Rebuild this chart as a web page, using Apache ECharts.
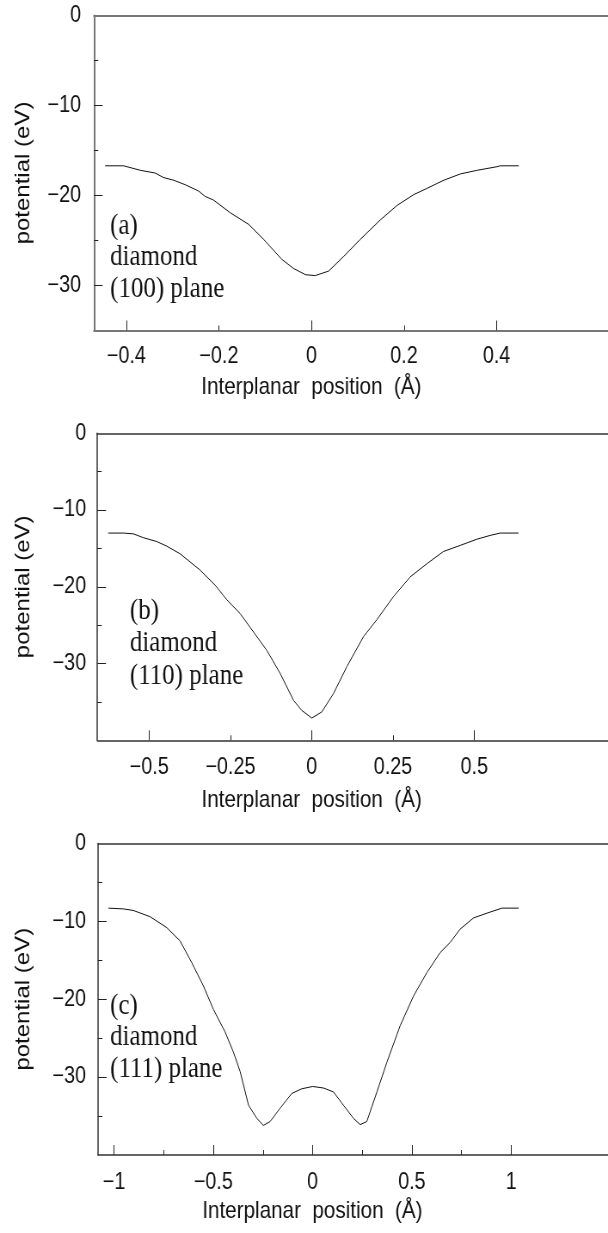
<!DOCTYPE html>
<html><head><meta charset="utf-8">
<script src="https://cdn.jsdelivr.net/npm/echarts@6/dist/echarts.min.js"></script>
<style>
html,body{margin:0;padding:0;background:#fff;overflow:hidden;width:608px;height:1233px;position:relative}
#c{width:1100px;height:1233px;transform:scaleX(0.86);transform-origin:0 0;position:absolute;left:0;top:0}
</style>
</head><body><div id="c"></div>
<script>
// Panel (a) diamond (100) plane
const xA = [-0.446,-0.406,-0.403,-0.370,-0.338,-0.320,-0.298,-0.273,-0.244,-0.230,-0.212,-0.176,-0.136,-0.103,-0.064,-0.039,-0.013,0.008,0.037,0.069,0.105,0.149,0.185,0.221,0.250,0.286,0.322,0.358,0.401,0.408,0.448];
const yA = [-16.7,-16.7,-16.9,-17.2,-17.5,-18.0,-18.3,-18.8,-19.5,-20.1,-20.5,-21.9,-23.2,-24.9,-27.1,-28.1,-28.8,-28.9,-28.4,-26.8,-24.9,-22.7,-21.1,-19.9,-19.2,-18.3,-17.6,-17.2,-16.8,-16.7,-16.7];
// Panel (b) diamond (110) plane
const xB = [-0.626,-0.579,-0.549,-0.518,-0.477,-0.446,-0.405,-0.344,-0.297,-0.261,-0.220,-0.179,-0.138,-0.097,-0.056,-0.031,0.000,0.031,0.067,0.108,0.159,0.200,0.251,0.303,0.354,0.405,0.457,0.508,0.549,0.580,0.636];
const yB = [-13.0,-13.0,-13.1,-13.6,-14.1,-14.7,-15.7,-17.8,-19.8,-21.7,-23.5,-25.9,-28.3,-31.3,-34.8,-36.1,-37.1,-36.3,-33.9,-30.4,-26.5,-24.3,-21.3,-18.7,-17.0,-15.4,-14.6,-13.8,-13.3,-13.0,-13.0];
// Panel (c) diamond (111) plane
const xC = [-1.029,-0.953,-0.903,-0.819,-0.735,-0.668,-0.609,-0.550,-0.500,-0.441,-0.399,-0.365,-0.323,-0.281,-0.248,-0.214,-0.164,-0.105,-0.055,0.000,0.055,0.105,0.155,0.206,0.240,0.273,0.324,0.374,0.441,0.508,0.575,0.643,0.693,0.743,0.811,0.895,0.954,1.038];
const yC = [-8.3,-8.4,-8.6,-9.4,-10.8,-12.5,-15.3,-18.3,-21.3,-24.2,-26.8,-29.3,-33.6,-35.3,-36.2,-35.7,-34.0,-32.1,-31.5,-31.2,-31.4,-31.9,-33.6,-35.3,-36.1,-35.7,-31.9,-28.1,-23.4,-19.6,-16.6,-14.0,-12.7,-11.0,-9.55,-8.8,-8.3,-8.3];

// Tick labels and tick positions
const xLabelsA = [-0.4,-0.2,0,0.2,0.4];
const xMajorA = [-0.4,0,0.4];
const xMinorA = [-0.2,0.2];
const xLabelsB = [-0.5,-0.25,0,0.25,0.5];
const xMajorB = [-0.5,0,0.5];
const xMinorB = [-0.25,0.25];
const xLabelsC = [-1,-0.5,0,0.5,1];
const xMajorC = [-1,-0.5,0,0.5,1];
const xMinorC = [-0.75,-0.25,0.25,0.75];
const yLabels = [0,-10,-20,-30];
const yMajor = [-10,-20,-30];
const yMinorA = [-5,-15,-25];
const yMinorBC = [-5,-15,-25,-35];

const captions = [["(a)","diamond","(100) plane"],["(b)","diamond","(110) plane"],["(c)","diamond","(111) plane"]];
const xTitle = "Interplanar  position  (Å)";
const yTitle = "potential (eV)";

const panels = [
  {x:xA,y:yA,xMin:-0.47,xMax:1.2,yMin:-35,xl:xLabelsA,xM:xMajorA,xm:xMinorA,ym:yMinorA,
   grid:{left:109.3,top:15.5,width:898.5,height:315},ac:'#777',aw:2,lm:15,ylm:15,nameGapX:45,nameGapY:70,namePad:393,
   cap:{x:128,y:[226,257.5,289]}},
  {x:xB,y:yB,xMin:-0.6595,xMax:1.5,yMin:-40,xl:xLabelsB,xM:xMajorB,xm:xMinorB,ym:yMinorBC,
   grid:{left:113.2,top:433.3,width:816.3,height:307},ac:'#333',aw:1.5,lm:16,ylm:13,nameGapX:48,nameGapY:74,namePad:318,
   cap:{x:151,y:[611,643.7,676.5]}},
  {x:xC,y:yC,xMin:-1.081,xMax:2.5,yMin:-40,xl:xLabelsC,xM:xMajorC,xm:xMinorC,ym:yMinorBC,
   grid:{left:114,top:843.5,width:826.5,height:311.5},ac:'#333',aw:1.5,lm:16,ylm:14,nameGapX:44,nameGapY:75,namePad:328,
   cap:{x:128,y:[1006,1037.5,1069]}}
];

const fmt = v => v < 0 ? '\u2212' + Math.abs(v) : String(v);
const sans = '"Liberation Sans", Arial, sans-serif';
const grids = [], xAxes = [], yAxes = [], series = [], graphics = [];
panels.forEach((p, i) => {
  grids.push(Object.assign({show:false,containLabel:false,outerBoundsMode:'none'}, p.grid));
  xAxes.push({type:'value',gridIndex:i,position:'bottom',min:p.xMin,max:p.xMax,
    axisLine:{show:true,onZero:false,lineStyle:{color:p.ac,width:p.aw}},
    axisTick:{show:true,inside:true,length:10,customValues:p.xM,lineStyle:{color:'#222',width:1}},
    axisLabel:{customValues:p.xl,formatter:fmt,fontSize:23,fontFamily:sans,color:'#111',margin:p.lm},
    splitLine:{show:false},
    name:xTitle,nameLocation:'middle',nameGap:p.nameGapX,
    nameTextStyle:{fontSize:24,fontFamily:sans,color:'#111',padding:[0,p.namePad,0,0]}});
  xAxes.push({type:'value',gridIndex:i,position:'bottom',min:p.xMin,max:p.xMax,
    axisLine:{show:false,onZero:false},axisLabel:{show:false},splitLine:{show:false},
    axisTick:{show:true,inside:true,length:5,customValues:p.xm,lineStyle:{color:'#222',width:1}}});
  xAxes.push({type:'value',gridIndex:i,position:'top',min:p.xMin,max:p.xMax,
    axisLine:{show:true,onZero:false,lineStyle:{color:p.ac,width:p.aw}},
    axisLabel:{show:false},axisTick:{show:false},splitLine:{show:false}});
  yAxes.push({type:'value',gridIndex:i,position:'left',min:p.yMin,max:0,
    axisLine:{show:true,onZero:false,lineStyle:{color:p.ac,width:p.aw}},
    axisTick:{show:true,inside:true,length:10,customValues:yMajor,lineStyle:{color:'#222',width:1}},
    axisLabel:{customValues:yLabels,formatter:fmt,fontSize:23,fontFamily:sans,color:'#111',margin:p.ylm},
    splitLine:{show:false},
    name:yTitle,nameLocation:'middle',nameGap:p.nameGapY,
    nameTextStyle:{fontSize:24,fontFamily:sans,color:'#111'}});
  yAxes.push({type:'value',gridIndex:i,position:'left',min:p.yMin,max:0,
    axisLine:{show:false,onZero:false},axisLabel:{show:false},splitLine:{show:false},
    axisTick:{show:true,inside:true,length:5,customValues:p.ym,lineStyle:{color:'#222',width:1}}});
  series.push({type:'line',xAxisIndex:3*i,yAxisIndex:2*i,showSymbol:false,smooth:false,
    lineStyle:{color:'#111',width:1},data:p.x.map((v,k)=>[v,p.y[k]]),animation:false});
  captions[i].forEach((t, k) => {
    graphics.push({type:'text',x:p.cap.x,y:p.cap.y[k],
      style:{text:t,font:'29px "Liberation Serif", "Times New Roman", serif',fill:'#111',
             textAlign:'left',textVerticalAlign:'middle',verticalAlign:'middle'}});
  });
});

const chart = echarts.init(document.getElementById('c'), null, {renderer:'canvas',width:1100,height:1233});
chart.setOption({backgroundColor:'#fff',animation:false,grid:grids,xAxis:xAxes,yAxis:yAxes,series:series,graphic:graphics});
</script></body></html>
